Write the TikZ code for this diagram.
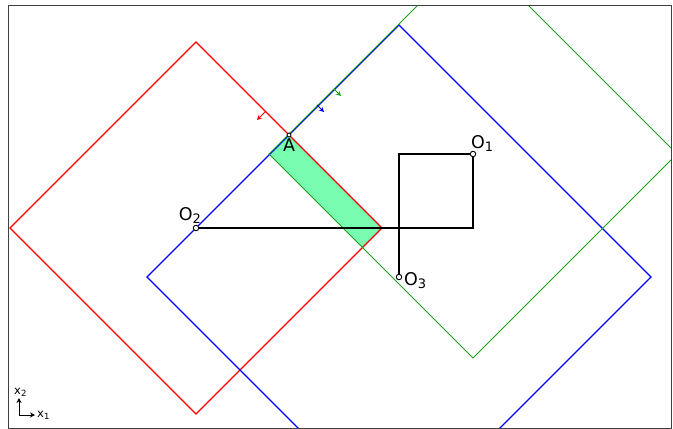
\documentclass[tikz,border=0pt]{standalone}
\usepackage{fontspec}
\setmainfont{DejaVu Sans}
\usetikzlibrary{arrows.meta}
\definecolor{mygreen}{RGB}{30,160,30}
\definecolor{fillgreen}{RGB}{120,252,175}
\newcommand{\mysub}[1]{\raisebox{-0.3ex}{\fontsize{13}{13}\selectfont #1}}
\newcommand{\mysmallsub}[1]{\raisebox{-0.3ex}{\fontsize{8.5}{8.5}\selectfont #1}}
\tikzset{
  sq/.style={line width=1.4pt},
  blk/.style={line width=1.9pt, black},
  pt/.style={circle, draw=black, fill=white, inner sep=0pt, minimum size=5.5pt, line width=0.9pt},
  lab/.style={font=\fontsize{17.5}{17.5}\selectfont, inner sep=0pt},
  small/.style={font=\fontsize{11.5}{11.5}\selectfont, inner sep=0pt},
  nrm/.style={-{Stealth[length=5pt,width=5pt]}, line width=1pt},
}
\begin{document}
\begin{tikzpicture}[x=1pt,y=-1pt]
\useasboundingbox (0,0) rectangle (673,429);
% centres
\coordinate (O1) at (473,154);
\coordinate (O2) at (196,228);
\coordinate (O3) at (399,277);
% green intersection region
\coordinate (A) at (289,135);
\coordinate (P2) at (269.5,154.5);
\coordinate (P3) at (362.5,247.5);
\coordinate (P4) at (382,228);
\fill[fillgreen] (A) -- (P2) -- (P3) -- (P4) -- cycle;
\begin{scope}
\clip (8,5) rectangle (671,428);
% red square
\draw[sq, red] (196,42) -- (382,228) -- (196,414) -- (10,228) -- cycle;
% blue square
\draw[sq, blue] (399,25) -- (651,277) -- (399,529) -- (147,277) -- cycle;
% green square
\draw[line width=1pt, mygreen] (473,-50) -- (677,154) -- (473,358) -- (269,154) -- cycle;
\end{scope}
% frame
\draw[line width=0.8pt, black!75] (8,5) rectangle (671,428);
% normal arrows
\coordinate (rn1) at (265,112); \coordinate (rn2) at (257,120);
\coordinate (bn1) at (317,105); \coordinate (bn2) at (324,112);
\coordinate (gn1) at (334,89);  \coordinate (gn2) at (341,96);
\draw[nrm, red] (rn1) -- (rn2);
\draw[nrm, blue] (bn1) -- (bn2);
\draw[nrm, mygreen] (gn1) -- (gn2);
% black path
\coordinate (C1) at (473,228);
\coordinate (C2) at (399,154);
\draw[blk] (O2) -- (C1) -- (O1) -- (C2) -- (O3);
\node[pt] (n1) at (O1) {};
\node[pt] (n2) at (O2) {};
\node[pt] (n3) at (O3) {};
\node[pt, minimum size=4pt] (nA) at (A) {};
% labels
\node[lab, anchor=south west] (l1) at (471,152) {O\mysub{1}};
\node[lab, anchor=south east] (l2) at (201,224) {O\mysub{2}};
\node[lab, anchor=west] (l3) at (404,281) {O\mysub{3}};
\node[lab, anchor=north] (lA) at (289,139) {A};
% axes indicator
\coordinate (ax0) at (19,415);
\coordinate (ax1) at (35,415);
\coordinate (ax2) at (19,398);
\draw[-{Stealth[length=5pt,width=5pt]}, line width=0.9pt] (ax0) -- (ax1);
\draw[-{Stealth[length=5pt,width=5pt]}, line width=0.9pt] (ax0) -- (ax2);
\node[small, anchor=west] (x1) at (37,415) {x\mysmallsub{1}};
\node[small, anchor=south west] (x2) at (14,397) {x\mysmallsub{2}};
\end{tikzpicture}
\end{document}
